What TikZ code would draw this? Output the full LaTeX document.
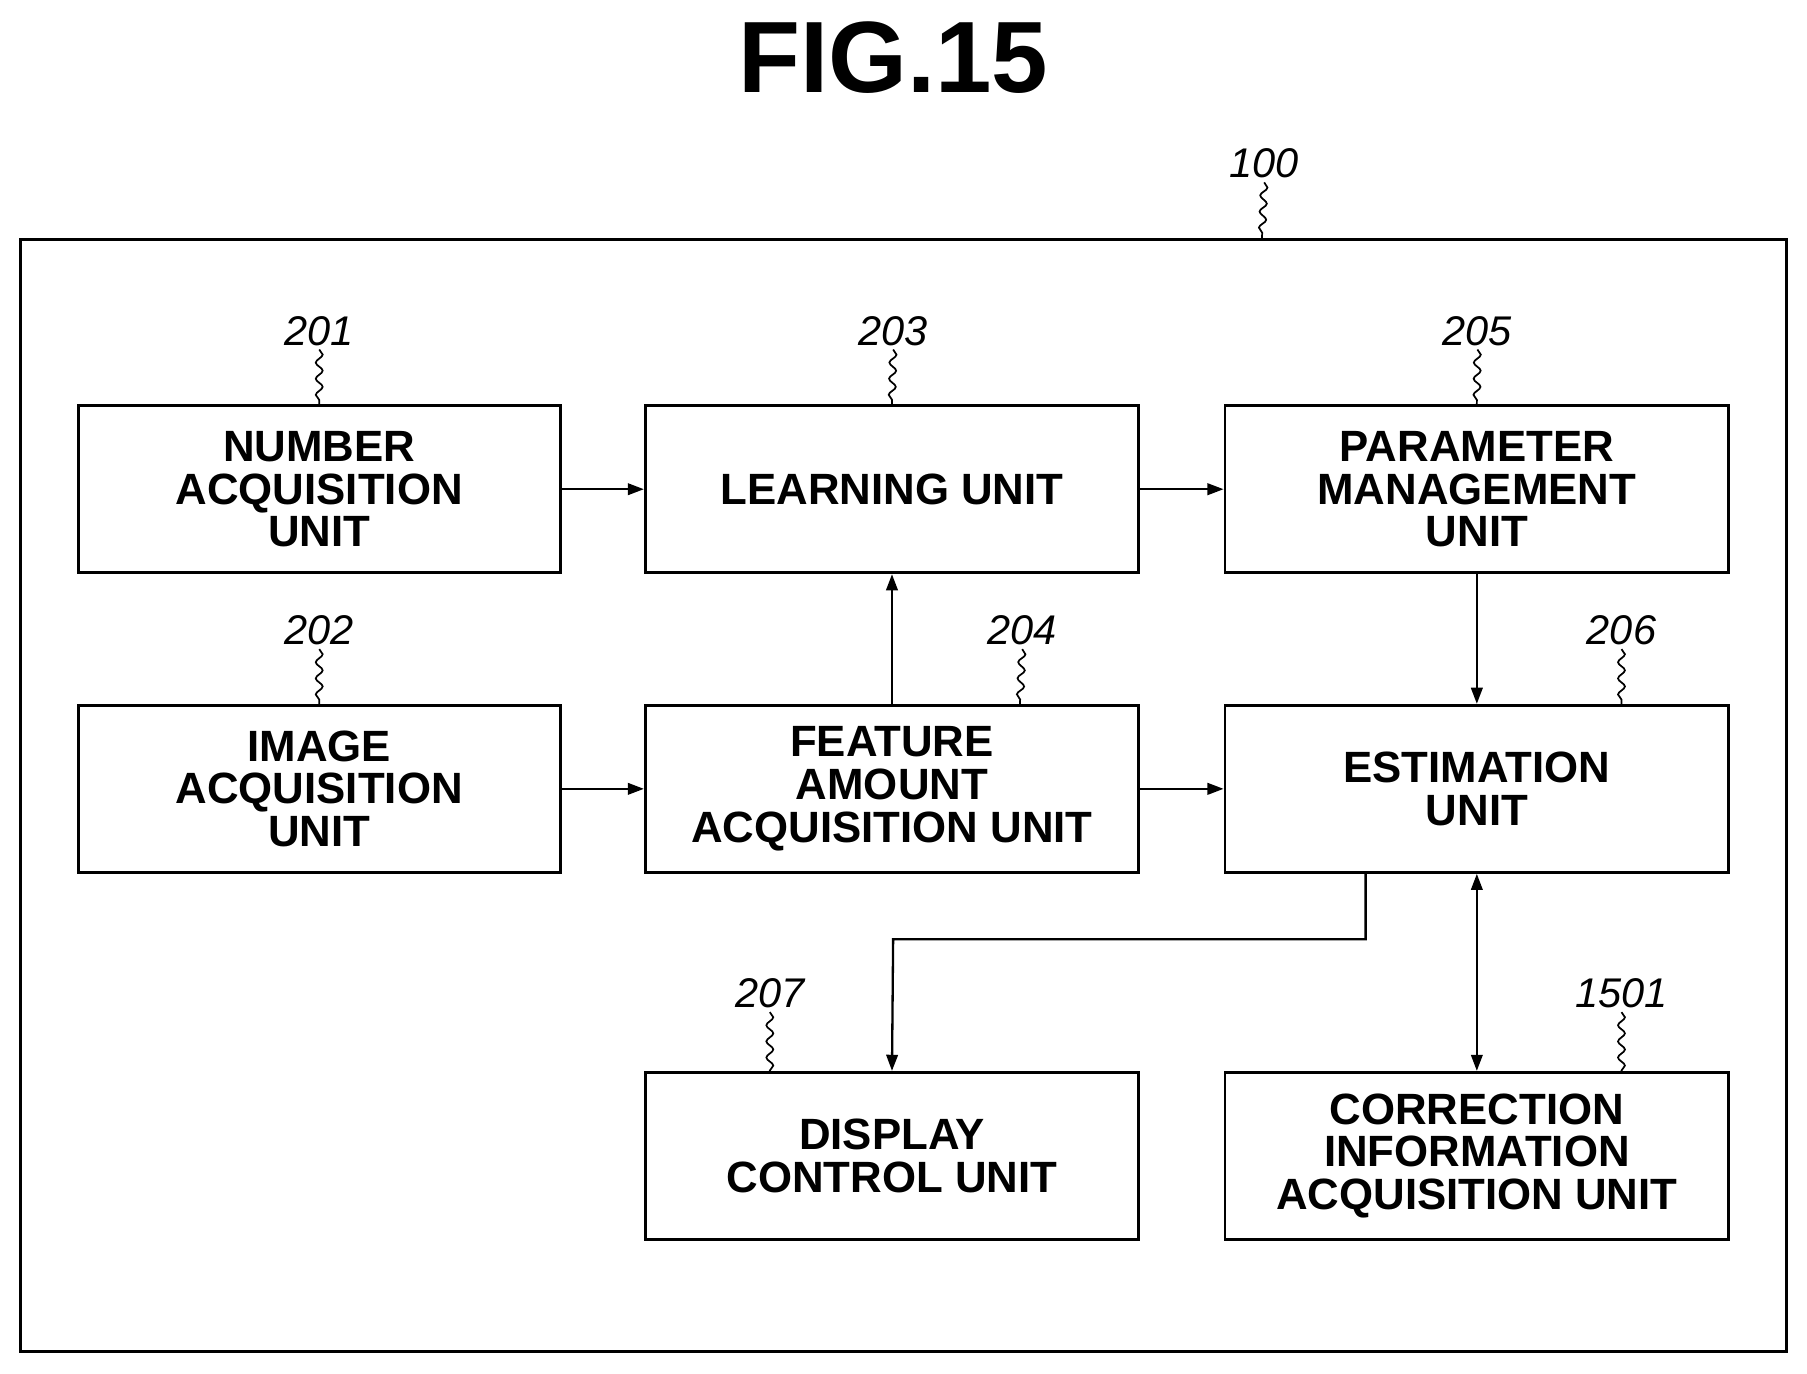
\documentclass[tikz,border=0pt]{standalone}
\usepackage{fontspec}
\setmainfont{Liberation Sans}
\usetikzlibrary{arrows.meta,decorations.pathmorphing}
\begin{document}
\begin{tikzpicture}[x=1pt,y=-1pt,
 box/.style={draw,line width=2.5pt,minimum width=#1,minimum height=145pt,align=center,font=\fontsize{38}{37}\selectfont\bfseries,inner sep=0pt},
 box/.default=418pt,
 lab/.style={font=\fontsize{36}{36}\selectfont\itshape},
 arr/.style={line width=2pt,-{Triangle[length=14pt,width=10pt]}},
 lead/.style={line width=1.5pt,decorate,decoration={snake,amplitude=3pt,segment length=14pt}}]
\useasboundingbox (0,0) rectangle (1568,1192);
\node[font=\fontsize{88}{88}\selectfont\bfseries] (title) at (775,50) {FIG.15};
\node[draw,line width=2.5pt,minimum width=1532pt,minimum height=965pt,inner sep=0pt] (outer) at (784,690.5) {};
\node[box] (n201) at (277,424.5) {NUMBER\\ACQUISITION\\UNIT};
\node[box=428pt] (n203) at (774,424.5) {LEARNING UNIT};
\node[box=437pt] (n205) at (1281.5,424.5) {PARAMETER\\MANAGEMENT\\UNIT};
\node[box] (n202) at (277,684.5) {IMAGE\\ACQUISITION\\UNIT};
\node[box=428pt] (n204) at (774,684.5) {FEATURE\\AMOUNT\\ACQUISITION UNIT};
\node[box=437pt] (n206) at (1281.5,684.5) {ESTIMATION\\UNIT};
\node[box=428pt] (n207) at (774,1003) {DISPLAY\\CONTROL UNIT};
\node[box=437pt] (n1501) at (1281.5,1003) {CORRECTION\\INFORMATION\\ACQUISITION UNIT};
\node[lab] (l100) at (1097,142) {100};
\node[lab] (l201) at (277,287) {201};
\node[lab] (l203) at (775,287) {203};
\node[lab] (l205) at (1282,287) {205};
\node[lab] (l202) at (277,547) {202};
\node[lab] (l204) at (887,547) {204};
\node[lab] (l206) at (1407,547) {206};
\node[lab] (l207) at (668,862) {207};
\node[lab] (l1501) at (1407,862) {1501};
\draw[lead] (l100.south) -- (1095,208);
\draw[lead] (l201.south) -- (n201.north);
\draw[lead] (l203.south) -- (n203.north);
\draw[lead] (l205.south) -- (n205.north);
\draw[lead] (l202.south) -- (n202.north);
\draw[lead] (l204.south) -- (885,612);
\draw[lead] (l206.south) -- (1407,612);
\draw[lead] (l207.south) -- (668,930);
\draw[lead] (l1501.south) -- (1407,930);
\draw[arr] (n201) -- (n203);
\draw[arr] (n203) -- (n205);
\draw[arr] (n202) -- (n204);
\draw[arr] (n204) -- (n206);
\draw[arr] (n204.north) -- (n203.south);
\draw[arr] (n205.south) -- (n206.north);
\coordinate (c1) at (1185,757);
\draw[arr] (c1) |- (775,815) -- (n207.north);
\draw[arr,{Triangle[length=14pt,width=10pt]}-{Triangle[length=14pt,width=10pt]}] (n206.south) -- (n1501.north);
\end{tikzpicture}
\end{document}
